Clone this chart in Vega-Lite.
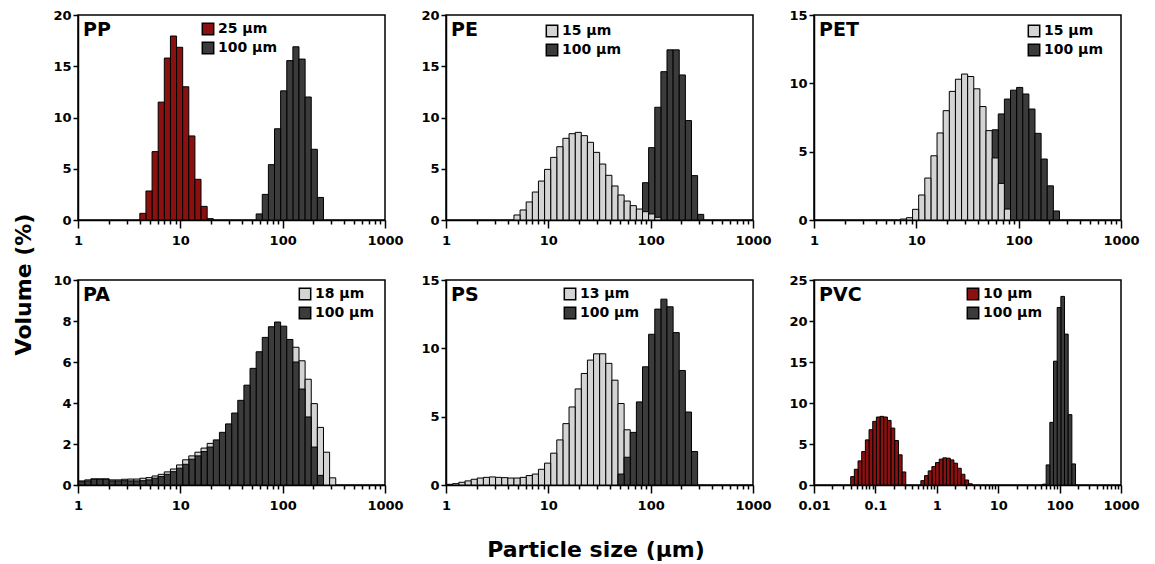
{
"$schema":"https://vega.github.io/schema/vega-lite/v6.json",
"padding":{"left":13,"top":8,"right":5,"bottom":3},
"datasets":{
"PP":[
{"s":"25 µm","x":4.305,"v":0.65},{"s":"25 µm","x":4.941,"v":2.83},{"s":"25 µm","x":5.671,"v":6.67},{"s":"25 µm","x":6.508,"v":11.5},{"s":"25 µm","x":7.470,"v":15.8},{"s":"25 µm","x":8.573,"v":17.95},{"s":"25 µm","x":9.839,"v":16.85},{"s":"25 µm","x":11.29,"v":13.0},{"s":"25 µm","x":12.96,"v":8.2},{"s":"25 µm","x":14.87,"v":3.97},{"s":"25 µm","x":17.07,"v":1.33},{"s":"25 µm","x":19.59,"v":0.13},
{"s":"100 µm","x":58.98,"v":0.59},{"s":"100 µm","x":67.69,"v":2.5},{"s":"100 µm","x":77.69,"v":5.4},{"s":"100 µm","x":89.17,"v":8.9},{"s":"100 µm","x":102.3,"v":12.6},{"s":"100 µm","x":117.5,"v":15.55},{"s":"100 µm","x":134.8,"v":16.9},{"s":"100 µm","x":154.7,"v":15.7},{"s":"100 µm","x":177.6,"v":12.0},{"s":"100 µm","x":203.8,"v":6.9},{"s":"100 µm","x":233.9,"v":2.2}],
"PE":[
{"s":"15 µm","x":4.941,"v":0.49},{"s":"15 µm","x":5.671,"v":0.98},{"s":"15 µm","x":6.508,"v":1.76},{"s":"15 µm","x":7.470,"v":2.73},{"s":"15 µm","x":8.573,"v":3.8},{"s":"15 µm","x":9.839,"v":4.94},{"s":"15 µm","x":11.29,"v":6.11},{"s":"15 µm","x":12.96,"v":7.15},{"s":"15 µm","x":14.87,"v":7.97},{"s":"15 µm","x":17.07,"v":8.42},{"s":"15 µm","x":19.59,"v":8.55},{"s":"15 µm","x":22.49,"v":8.23},{"s":"15 µm","x":25.81,"v":7.58},{"s":"15 µm","x":29.62,"v":6.6},{"s":"15 µm","x":33.99,"v":5.46},{"s":"15 µm","x":39.02,"v":4.36},{"s":"15 µm","x":44.78,"v":3.32},{"s":"15 µm","x":51.39,"v":2.44},{"s":"15 µm","x":58.98,"v":1.85},{"s":"15 µm","x":67.69,"v":1.4},{"s":"15 µm","x":77.69,"v":1.07},{"s":"15 µm","x":89.17,"v":0.81},{"s":"15 µm","x":102.3,"v":0.59},{"s":"15 µm","x":117.5,"v":0.26},
{"s":"100 µm","x":89.17,"v":3.64},{"s":"100 µm","x":102.3,"v":7.06},{"s":"100 µm","x":117.5,"v":11.0},{"s":"100 µm","x":134.8,"v":14.47},{"s":"100 µm","x":154.7,"v":16.6},{"s":"100 µm","x":177.6,"v":16.6},{"s":"100 µm","x":203.8,"v":14.15},{"s":"100 µm","x":233.9,"v":9.7},{"s":"100 µm","x":268.4,"v":4.33},{"s":"100 µm","x":308.1,"v":0.55}],
"PET":[
{"s":"15 µm","x":7.470,"v":0.07},{"s":"15 µm","x":8.573,"v":0.17},{"s":"15 µm","x":9.839,"v":0.78},{"s":"15 µm","x":11.29,"v":1.83},{"s":"15 µm","x":12.96,"v":3.07},{"s":"15 µm","x":14.87,"v":4.7},{"s":"15 µm","x":17.07,"v":6.37},{"s":"15 µm","x":19.59,"v":8.0},{"s":"15 µm","x":22.49,"v":9.41},{"s":"15 µm","x":25.81,"v":10.3},{"s":"15 µm","x":29.62,"v":10.68},{"s":"15 µm","x":33.99,"v":10.5},{"s":"15 µm","x":39.02,"v":9.6},{"s":"15 µm","x":44.78,"v":8.3},{"s":"15 µm","x":51.39,"v":6.54},{"s":"15 µm","x":58.98,"v":4.54},{"s":"15 µm","x":67.69,"v":2.68},{"s":"15 µm","x":77.69,"v":0.8},
{"s":"100 µm","x":58.98,"v":6.6},{"s":"100 µm","x":67.69,"v":7.76},{"s":"100 µm","x":77.69,"v":8.85},{"s":"100 µm","x":89.17,"v":9.5},{"s":"100 µm","x":102.3,"v":9.7},{"s":"100 µm","x":117.5,"v":9.22},{"s":"100 µm","x":134.8,"v":8.12},{"s":"100 µm","x":154.7,"v":6.34},{"s":"100 µm","x":177.6,"v":4.46},{"s":"100 µm","x":203.8,"v":2.5},{"s":"100 µm","x":233.9,"v":0.66}],
"PA":[
{"s":"100 µm","x":1.086,"v":0.16},{"s":"100 µm","x":1.246,"v":0.2},{"s":"100 µm","x":1.430,"v":0.28},{"s":"100 µm","x":1.641,"v":0.28},{"s":"100 µm","x":1.884,"v":0.28},{"s":"100 µm","x":2.162,"v":0.2},{"s":"100 µm","x":2.481,"v":0.2},{"s":"100 µm","x":2.848,"v":0.21},{"s":"100 µm","x":3.268,"v":0.2},{"s":"100 µm","x":3.751,"v":0.2},{"s":"100 µm","x":4.305,"v":0.21},{"s":"100 µm","x":4.941,"v":0.25},{"s":"100 µm","x":5.671,"v":0.33},{"s":"100 µm","x":6.508,"v":0.41},{"s":"100 µm","x":7.470,"v":0.52},{"s":"100 µm","x":8.573,"v":0.65},{"s":"100 µm","x":9.839,"v":0.82},{"s":"100 µm","x":11.29,"v":1.01},{"s":"100 µm","x":12.96,"v":1.26},{"s":"100 µm","x":14.87,"v":1.42},{"s":"100 µm","x":17.07,"v":1.63},{"s":"100 µm","x":19.59,"v":1.85},{"s":"100 µm","x":22.49,"v":2.2},{"s":"100 µm","x":25.81,"v":2.57},{"s":"100 µm","x":29.62,"v":2.98},{"s":"100 µm","x":33.99,"v":3.51},{"s":"100 µm","x":39.02,"v":4.13},{"s":"100 µm","x":44.78,"v":4.87},{"s":"100 µm","x":51.39,"v":5.69},{"s":"100 µm","x":58.98,"v":6.5},{"s":"100 µm","x":67.69,"v":7.2},{"s":"100 µm","x":77.69,"v":7.72},{"s":"100 µm","x":89.17,"v":7.95},{"s":"100 µm","x":102.3,"v":7.75},{"s":"100 µm","x":117.5,"v":7.1},{"s":"100 µm","x":134.8,"v":6.0},{"s":"100 µm","x":154.7,"v":4.68},{"s":"100 µm","x":177.6,"v":3.32},{"s":"100 µm","x":203.8,"v":1.85},{"s":"100 µm","x":233.9,"v":0.47},
{"s":"18 µm","x":1.086,"v":0.2},{"s":"18 µm","x":1.246,"v":0.25},{"s":"18 µm","x":1.430,"v":0.3},{"s":"18 µm","x":1.641,"v":0.3},{"s":"18 µm","x":1.884,"v":0.3},{"s":"18 µm","x":2.162,"v":0.25},{"s":"18 µm","x":2.481,"v":0.25},{"s":"18 µm","x":2.848,"v":0.28},{"s":"18 µm","x":3.268,"v":0.29},{"s":"18 µm","x":3.751,"v":0.29},{"s":"18 µm","x":4.305,"v":0.33},{"s":"18 µm","x":4.941,"v":0.36},{"s":"18 µm","x":5.671,"v":0.44},{"s":"18 µm","x":6.508,"v":0.52},{"s":"18 µm","x":7.470,"v":0.64},{"s":"18 µm","x":8.573,"v":0.78},{"s":"18 µm","x":9.839,"v":0.98},{"s":"18 µm","x":11.29,"v":1.23},{"s":"18 µm","x":12.96,"v":1.42},{"s":"18 µm","x":14.87,"v":1.6},{"s":"18 µm","x":17.07,"v":1.8},{"s":"18 µm","x":19.59,"v":2.03},{"s":"18 µm","x":134.8,"v":6.72},{"s":"18 µm","x":154.7,"v":6.06},{"s":"18 µm","x":177.6,"v":5.16},{"s":"18 µm","x":203.8,"v":3.97},{"s":"18 µm","x":233.9,"v":2.81},{"s":"18 µm","x":268.4,"v":1.6},{"s":"18 µm","x":308.1,"v":0.35}],
"PS":[
{"s":"13 µm","x":1.086,"v":0.05},{"s":"13 µm","x":1.246,"v":0.1},{"s":"13 µm","x":1.430,"v":0.2},{"s":"13 µm","x":1.641,"v":0.3},{"s":"13 µm","x":1.884,"v":0.42},{"s":"13 µm","x":2.162,"v":0.51},{"s":"13 µm","x":2.481,"v":0.56},{"s":"13 µm","x":2.848,"v":0.59},{"s":"13 µm","x":3.268,"v":0.56},{"s":"13 µm","x":3.751,"v":0.54},{"s":"13 µm","x":4.305,"v":0.51},{"s":"13 µm","x":4.941,"v":0.51},{"s":"13 µm","x":5.671,"v":0.56},{"s":"13 µm","x":6.508,"v":0.69},{"s":"13 µm","x":7.470,"v":0.8},{"s":"13 µm","x":8.573,"v":1.15},{"s":"13 µm","x":9.839,"v":1.6},{"s":"13 µm","x":11.29,"v":2.33},{"s":"13 µm","x":12.96,"v":3.3},{"s":"13 µm","x":14.87,"v":4.49},{"s":"13 µm","x":17.07,"v":5.71},{"s":"13 µm","x":19.59,"v":7.03},{"s":"13 µm","x":22.49,"v":8.16},{"s":"13 µm","x":25.81,"v":9.14},{"s":"13 µm","x":29.62,"v":9.6},{"s":"13 µm","x":33.99,"v":9.6},{"s":"13 µm","x":39.02,"v":8.9},{"s":"13 µm","x":44.78,"v":7.67},{"s":"13 µm","x":51.39,"v":5.96},{"s":"13 µm","x":58.98,"v":4.04},
{"s":"100 µm","x":51.39,"v":0.8},{"s":"100 µm","x":58.98,"v":2.03},{"s":"100 µm","x":67.69,"v":3.85},{"s":"100 µm","x":77.69,"v":6.08},{"s":"100 µm","x":89.17,"v":8.65},{"s":"100 µm","x":102.3,"v":11.03},{"s":"100 µm","x":117.5,"v":12.87},{"s":"100 µm","x":134.8,"v":13.6},{"s":"100 µm","x":154.7,"v":13.04},{"s":"100 µm","x":177.6,"v":11.15},{"s":"100 µm","x":203.8,"v":8.38},{"s":"100 µm","x":233.9,"v":5.34},{"s":"100 µm","x":268.4,"v":2.45}],
"PVC":[
{"s":"10 µm","x":0.0424,"v":1.02},{"s":"10 µm","x":0.04866,"v":1.92},{"s":"10 µm","x":0.05585,"v":2.94},{"s":"10 µm","x":0.0641,"v":4.08},{"s":"10 µm","x":0.07357,"v":5.5},{"s":"10 µm","x":0.08443,"v":6.74},{"s":"10 µm","x":0.0969,"v":7.76},{"s":"10 µm","x":0.1112,"v":8.29},{"s":"10 µm","x":0.1276,"v":8.37},{"s":"10 µm","x":0.1465,"v":8.29},{"s":"10 µm","x":0.1681,"v":7.88},{"s":"10 µm","x":0.1930,"v":6.94},{"s":"10 µm","x":0.2215,"v":5.43},{"s":"10 µm","x":0.2542,"v":3.68},{"s":"10 µm","x":0.2918,"v":1.59},
{"s":"10 µm","x":0.589,"v":0.53},{"s":"10 µm","x":0.676,"v":1.14},{"s":"10 µm","x":0.7759,"v":1.72},{"s":"10 µm","x":0.8905,"v":2.25},{"s":"10 µm","x":1.022,"v":2.74},{"s":"10 µm","x":1.173,"v":3.15},{"s":"10 µm","x":1.346,"v":3.31},{"s":"10 µm","x":1.545,"v":3.27},{"s":"10 µm","x":1.773,"v":3.06},{"s":"10 µm","x":2.035,"v":2.66},{"s":"10 µm","x":2.336,"v":2.04},{"s":"10 µm","x":2.681,"v":1.31},{"s":"10 µm","x":3.077,"v":0.61},{"s":"10 µm","x":3.531,"v":0.15},
{"s":"100 µm","x":56.37,"v":0.1},{"s":"100 µm","x":64.7,"v":2.45},{"s":"100 µm","x":74.26,"v":7.64},{"s":"100 µm","x":85.22,"v":15.1},{"s":"100 µm","x":97.81,"v":21.65},{"s":"100 µm","x":112.26,"v":23.0},{"s":"100 µm","x":128.84,"v":18.4},{"s":"100 µm","x":147.87,"v":8.58},{"s":"100 µm","x":169.71,"v":2.57}]
},
"title":{"text":"Volume (%)","orient":"left","anchor":"middle","fontSize":22,"offset":16},
"resolve":{"scale":{"color":"independent"},"legend":{"color":"independent"}},
"vconcat":[{
"title":{"text":"Particle size (µm)","orient":"bottom","anchor":"middle","fontSize":22,"offset":27},
"resolve":{"scale":{"color":"independent"},"legend":{"color":"independent"}},
"spacing":25,
"vconcat":[
{"hconcat":[
{"width":307,"height":205,"layer":[
 {"data":{"name":"PP"},"mark":{"type":"bar","width":6.12,"stroke":"black","strokeWidth":1,"clip":true},
  "encoding":{"x":{"field":"x","type":"quantitative","scale":{"type":"log","domain":[1,1000],"nice":false,"padding":0},"axis":{"values":[1,10,100,1000],"format":"~g","tickSize":8,"labelPadding":6,"title":null,"orient":"bottom"}},
   "y":{"field":"v","type":"quantitative","stack":null,"scale":{"domain":[0,20],"nice":false},"axis":{"values":[0,5,10,15,20],"title":null}},
   "color":{"field":"s","type":"nominal","scale":{"domain":["25 µm","100 µm"],"range":["#8b1111","#3b3b3b"]},"legend":{"orient":"none","legendX":123,"legendY":7,"title":null}},
   "order":{"field":"v","sort":"descending"}}},
 {"data":{"values":[{}]},"mark":{"type":"text","text":"PP","align":"left","baseline":"top","dx":5,"dy":6,"fontSize":19,"fontWeight":"bold"},
  "encoding":{"x":{"datum":1,"type":"quantitative","scale":{"type":"log","domain":[1,1000],"nice":false,"padding":0},"axis":{"values":[2,3,4,5,6,7,8,9,20,30,40,50,60,70,80,90,200,300,400,500,600,700,800,900],"labels":false,"domain":false,"tickSize":4,"title":null,"orient":"bottom"}},"y":{"datum":20,"type":"quantitative"}}}
],"resolve":{"axis":{"x":"independent"}}},
{"width":307,"height":205,"layer":[
 {"data":{"name":"PE"},"mark":{"type":"bar","width":6.12,"stroke":"black","strokeWidth":1,"clip":true},
  "encoding":{"x":{"field":"x","type":"quantitative","scale":{"type":"log","domain":[1,1000],"nice":false,"padding":0},"axis":{"values":[1,10,100,1000],"format":"~g","tickSize":8,"labelPadding":6,"title":null,"orient":"bottom"}},
   "y":{"field":"v","type":"quantitative","stack":null,"scale":{"domain":[0,20],"nice":false},"axis":{"values":[0,5,10,15,20],"title":null}},
   "color":{"field":"s","type":"nominal","scale":{"domain":["15 µm","100 µm"],"range":["#d4d4d4","#3b3b3b"]},"legend":{"orient":"none","legendX":99,"legendY":9,"title":null}},
   "order":{"field":"v","sort":"descending"}}},
 {"data":{"values":[{}]},"mark":{"type":"text","text":"PE","align":"left","baseline":"top","dx":5,"dy":6,"fontSize":19,"fontWeight":"bold"},
  "encoding":{"x":{"datum":1,"type":"quantitative","scale":{"type":"log","domain":[1,1000],"nice":false,"padding":0},"axis":{"values":[2,3,4,5,6,7,8,9,20,30,40,50,60,70,80,90,200,300,400,500,600,700,800,900],"labels":false,"domain":false,"tickSize":4,"title":null,"orient":"bottom"}},"y":{"datum":20,"type":"quantitative"}}}
],"resolve":{"axis":{"x":"independent"}}},
{"width":307,"height":205,"layer":[
 {"data":{"name":"PET"},"mark":{"type":"bar","width":6.12,"stroke":"black","strokeWidth":1,"clip":true},
  "encoding":{"x":{"field":"x","type":"quantitative","scale":{"type":"log","domain":[1,1000],"nice":false,"padding":0},"axis":{"values":[1,10,100,1000],"format":"~g","tickSize":8,"labelPadding":6,"title":null,"orient":"bottom"}},
   "y":{"field":"v","type":"quantitative","stack":null,"scale":{"domain":[0,15],"nice":false},"axis":{"values":[0,5,10,15],"title":null}},
   "color":{"field":"s","type":"nominal","scale":{"domain":["15 µm","100 µm"],"range":["#d4d4d4","#3b3b3b"]},"legend":{"orient":"none","legendX":213,"legendY":9,"title":null}},
   "order":{"field":"v","sort":"descending"}}},
 {"data":{"values":[{}]},"mark":{"type":"text","text":"PET","align":"left","baseline":"top","dx":5,"dy":6,"fontSize":19,"fontWeight":"bold"},
  "encoding":{"x":{"datum":1,"type":"quantitative","scale":{"type":"log","domain":[1,1000],"nice":false,"padding":0},"axis":{"values":[2,3,4,5,6,7,8,9,20,30,40,50,60,70,80,90,200,300,400,500,600,700,800,900],"labels":false,"domain":false,"tickSize":4,"title":null,"orient":"bottom"}},"y":{"datum":15,"type":"quantitative"}}}
],"resolve":{"axis":{"x":"independent"}}}
],"spacing":16,"resolve":{"scale":{"color":"independent"},"legend":{"color":"independent"}}},
{"hconcat":[
{"width":307,"height":205,"layer":[
 {"data":{"name":"PA"},"mark":{"type":"bar","width":6.12,"stroke":"black","strokeWidth":1,"clip":true},
  "encoding":{"x":{"field":"x","type":"quantitative","scale":{"type":"log","domain":[1,1000],"nice":false,"padding":0},"axis":{"values":[1,10,100,1000],"format":"~g","tickSize":8,"labelPadding":6,"title":null,"orient":"bottom"}},
   "y":{"field":"v","type":"quantitative","stack":null,"scale":{"domain":[0,10],"nice":false},"axis":{"values":[0,2,4,6,8,10],"title":null}},
   "color":{"field":"s","type":"nominal","scale":{"domain":["18 µm","100 µm"],"range":["#d4d4d4","#3b3b3b"]},"legend":{"orient":"none","legendX":220,"legendY":7,"title":null}},
   "order":{"field":"v","sort":"descending"}}},
 {"data":{"values":[{}]},"mark":{"type":"text","text":"PA","align":"left","baseline":"top","dx":5,"dy":6,"fontSize":19,"fontWeight":"bold"},
  "encoding":{"x":{"datum":1,"type":"quantitative","scale":{"type":"log","domain":[1,1000],"nice":false,"padding":0},"axis":{"values":[2,3,4,5,6,7,8,9,20,30,40,50,60,70,80,90,200,300,400,500,600,700,800,900],"labels":false,"domain":false,"tickSize":4,"title":null,"orient":"bottom"}},"y":{"datum":10,"type":"quantitative"}}}
],"resolve":{"axis":{"x":"independent"}}},
{"width":307,"height":205,"layer":[
 {"data":{"name":"PS"},"mark":{"type":"bar","width":6.12,"stroke":"black","strokeWidth":1,"clip":true},
  "encoding":{"x":{"field":"x","type":"quantitative","scale":{"type":"log","domain":[1,1000],"nice":false,"padding":0},"axis":{"values":[1,10,100,1000],"format":"~g","tickSize":8,"labelPadding":6,"title":null,"orient":"bottom"}},
   "y":{"field":"v","type":"quantitative","stack":null,"scale":{"domain":[0,15],"nice":false},"axis":{"values":[0,5,10,15],"title":null}},
   "color":{"field":"s","type":"nominal","scale":{"domain":["13 µm","100 µm"],"range":["#d4d4d4","#3b3b3b"]},"legend":{"orient":"none","legendX":117,"legendY":7,"title":null}},
   "order":{"field":"v","sort":"descending"}}},
 {"data":{"values":[{}]},"mark":{"type":"text","text":"PS","align":"left","baseline":"top","dx":5,"dy":6,"fontSize":19,"fontWeight":"bold"},
  "encoding":{"x":{"datum":1,"type":"quantitative","scale":{"type":"log","domain":[1,1000],"nice":false,"padding":0},"axis":{"values":[2,3,4,5,6,7,8,9,20,30,40,50,60,70,80,90,200,300,400,500,600,700,800,900],"labels":false,"domain":false,"tickSize":4,"title":null,"orient":"bottom"}},"y":{"datum":15,"type":"quantitative"}}}
],"resolve":{"axis":{"x":"independent"}}},
{"width":307,"height":205,"layer":[
 {"data":{"name":"PVC"},"mark":{"type":"bar","width":3.67,"stroke":"black","strokeWidth":1,"clip":true},
  "encoding":{"x":{"field":"x","type":"quantitative","scale":{"type":"log","domain":[0.01,1000],"nice":false,"padding":0},"axis":{"values":[0.01,0.1,1,10,100,1000],"format":"~g","tickSize":8,"labelPadding":6,"title":null,"orient":"bottom"}},
   "y":{"field":"v","type":"quantitative","stack":null,"scale":{"domain":[0,25],"nice":false},"axis":{"values":[0,5,10,15,20,25],"title":null}},
   "color":{"field":"s","type":"nominal","scale":{"domain":["10 µm","100 µm"],"range":["#8b1111","#3b3b3b"]},"legend":{"orient":"none","legendX":152,"legendY":7,"title":null}},
   "order":{"field":"v","sort":"descending"}}},
 {"data":{"values":[{}]},"mark":{"type":"text","text":"PVC","align":"left","baseline":"top","dx":5,"dy":6,"fontSize":19,"fontWeight":"bold"},
  "encoding":{"x":{"datum":0.01,"type":"quantitative","scale":{"type":"log","domain":[0.01,1000],"nice":false,"padding":0},"axis":{"values":[0.02,0.03,0.04,0.05,0.06,0.07,0.08,0.09,0.2,0.3,0.4,0.5,0.6,0.7,0.8,0.9,2,3,4,5,6,7,8,9,20,30,40,50,60,70,80,90,200,300,400,500,600,700,800,900],"labels":false,"domain":false,"tickSize":4,"title":null,"orient":"bottom"}},"y":{"datum":25,"type":"quantitative"}}}
],"resolve":{"axis":{"x":"independent"}}}
],"spacing":16,"resolve":{"scale":{"color":"independent"},"legend":{"color":"independent"}}}
]}],
"config":{
 "font":"DejaVu Sans",
 "background":"white",
 "view":{"stroke":"black","strokeWidth":1.5},
 "title":{"font":"DejaVu Sans","fontWeight":"bold","color":"black","fontSize":22},
 "text":{"font":"DejaVu Sans","color":"black"},
 "axis":{"grid":false,"domainColor":"black","domainWidth":1.5,"tickColor":"black","tickWidth":1.5,"tickSize":5,"labelFont":"DejaVu Sans","labelFontSize":13,"labelFontWeight":"bold","labelColor":"black","labelPadding":2,"labelFlush":false,"labelOverlap":false},
 "legend":{"symbolType":"square","symbolSize":130,"symbolStrokeColor":"black","symbolStrokeWidth":1.5,"symbolOpacity":1,"labelFont":"DejaVu Sans","labelFontSize":14,"labelFontWeight":"bold","labelColor":"black","rowPadding":1,"labelOffset":3,"padding":0}
}
}
